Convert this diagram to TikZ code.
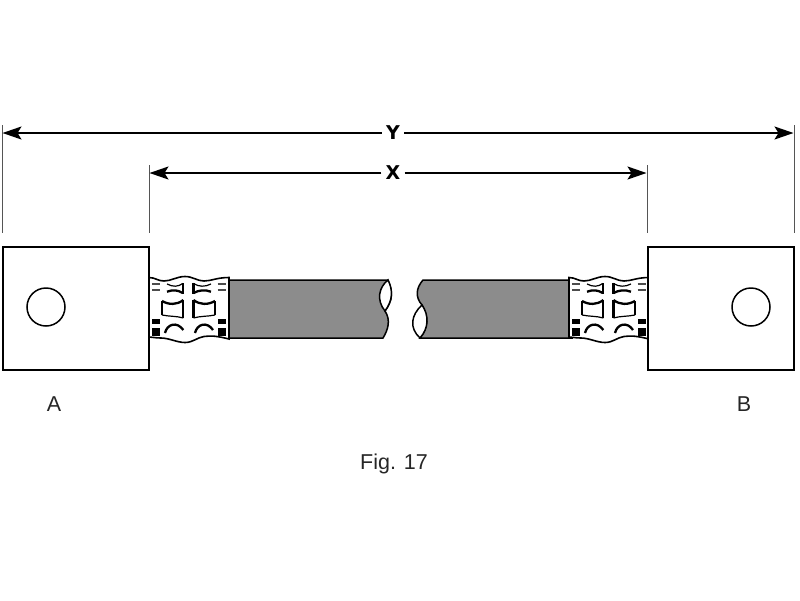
\documentclass[tikz,border=0pt]{standalone}
\usepackage{fontspec}
\setmainfont{Liberation Sans}
\newfontfamily\dimfont{DejaVu Sans}
\usetikzlibrary{arrows.meta}
\definecolor{hosegray}{HTML}{8C8C8C}
\definecolor{extgray}{HTML}{555555}
\tikzset{
  x=1pt,y=-1pt,
  blockbox/.style={draw=black,line width=1.5pt,fill=white,minimum width=146pt,minimum height=123pt,inner sep=0pt},
  holeshape/.style={circle,draw=black,line width=1.5pt,fill=white,minimum size=38pt,inner sep=0pt},
  dimline/.style={draw=black,line width=1.8pt,-{Stealth[length=19pt,width=13pt,inset=4pt]}},
  extline/.style={draw=extgray,line width=1pt},
  dimlabel/.style={font=\fontsize{19}{19}\selectfont\dimfont\bfseries,inner sep=4pt},
  plainlabel/.style={font=\fontsize{21.5}{22}\selectfont,text=black!85,inner sep=0pt},
  thick stroke/.style={line width=2.3pt},
  thin stroke/.style={line width=1.2pt},
  ferrule/.pic={
    \draw[line width=1.6pt,fill=white]
      (0,277.5) .. controls (6,277.5) and (9,281) .. (15,281)
      .. controls (22,281) and (28,276.5) .. (36,276.5)
      .. controls (44,276.5) and (48,281) .. (55,281)
      .. controls (62,281) and (68,277.5) .. (80,277.5)
      -- (80,339)
      .. controls (68,336) and (62,335.5) .. (55,336.5)
      .. controls (48,337.5) and (44,342.5) .. (36,342.5)
      .. controls (28,342.5) and (20,338) .. (12,338)
      .. controls (6,338) and (3,337) .. (0,337) -- cycle;
    % dashes and squares at both ends
    \foreach \xa/\xb in {3/11,68.5/77}{
      \draw[line width=1.7pt,black!70] (\xa,284.3) -- (\xb,284.3);
      \draw[line width=1.7pt,black!70] (\xa,290) -- (\xb,290);
      \fill (\xa,318.5) rectangle (\xb,323.5);
      \fill (\xa,327.5) rectangle (\xb,336);
    }
    % top row
    \draw[thin stroke] (18,284) .. controls (24,287) and (29,287) .. (33.7,283.5);
    \draw[thick stroke] (33.7,283) -- (33.7,293.5);
    \draw[thick stroke] (18,291.7) .. controls (24,289.5) and (29,290) .. (33.7,293);
    \draw[thin stroke] (62,284) .. controls (56,287) and (50,287) .. (44.5,283.5);
    \draw[thick stroke] (44.5,283) -- (44.5,293.5);
    \draw[thick stroke] (62,291.7) .. controls (56,289.5) and (50,290) .. (44.5,293);
    % middle row
    \draw[thick stroke] (13,301) .. controls (20,305) and (28,305) .. (34.3,300);
    \draw[thin stroke] (13,301) -- (13,315);
    \draw[thick stroke] (34.3,300) -- (34.3,318);
    \draw[thin stroke] (13,315) .. controls (20,316.5) and (28,316) .. (34.3,318);
    \draw[thick stroke] (66,301) .. controls (59,305) and (51,305) .. (44.5,300);
    \draw[thin stroke] (66,301) -- (66,315);
    \draw[thick stroke] (44.5,300) -- (44.5,318);
    \draw[thin stroke] (66,315) .. controls (59,316.5) and (51,316) .. (44.5,318);
    % bottom row
    \draw[thick stroke] (16,333) .. controls (18,324) and (28,321) .. (34.3,330);
    \draw[thick stroke] (46,333) .. controls (48,324) and (58,321) .. (64,330);
  }
}
\begin{document}
\begin{tikzpicture}
\useasboundingbox (0,0) rectangle (800,600);
% hose
\draw[line width=1.5pt,fill=hosegray]
  (226,280) -- (388,280)
  .. controls (393,292) and (393,300) .. (385,311)
  .. controls (391,320) and (388,330) .. (383,338)
  -- (226,338) -- cycle;
\draw[line width=1.5pt,fill=white]
  (388,280) .. controls (379,287) and (376,300) .. (385,311)
  .. controls (393,300) and (393,290) .. (388,280) -- cycle;
\draw[line width=1.5pt,fill=hosegray]
  (572,280) -- (423,280)
  .. controls (416,288) and (415,297) .. (422,305)
  .. controls (429,318) and (428,328) .. (420,338)
  -- (572,338) -- cycle;
\draw[line width=1.5pt,fill=white]
  (422,305) .. controls (411,315) and (409,328) .. (420,338)
  .. controls (429,328) and (429,315) .. (422,305) -- cycle;
% ferrules
\pic at (149,0) {ferrule};
\pic at (569,0) {ferrule};
% blocks
\node[blockbox] (blockA) at (76,308.5) {};
\node[blockbox] (blockB) at (721,308.5) {};
\node[holeshape] (holeA) at (46,307) {};
\node[holeshape] (holeB) at (751,307) {};
% extension lines
\coordinate (yl) at (2,125); \coordinate (ylb) at (2,233);
\coordinate (yr) at (794,125); \coordinate (yrb) at (794,233);
\coordinate (xl) at (149,165); \coordinate (xlb) at (149,233);
\coordinate (xr) at (647,165); \coordinate (xrb) at (647,233);
\draw[extline] (yl) -- (ylb);
\draw[extline] (yr) -- (yrb);
\draw[extline] (xl) -- (xlb);
\draw[extline] (xr) -- (xrb);
% dimensions
\node[dimlabel,minimum height=24pt] (labY) at (393,133) {Y};
\node[dimlabel,minimum height=24pt] (labX) at (393,173) {\raisebox{1pt}{X}};
\coordinate (yta) at (2.5,133); \coordinate (ytb) at (793.5,133);
\coordinate (xta) at (149.5,173); \coordinate (xtb) at (646.5,173);
\draw[dimline] (labY) -- (yta);
\draw[dimline] (labY) -- (ytb);
\draw[dimline] (labX) -- (xta);
\draw[dimline] (labX) -- (xtb);
% labels
\node[plainlabel] (labA) at (54,404) {A};
\node[plainlabel] (labB) at (744,404) {B};
\node[plainlabel] (labFig) at (394,463.5) {Fig. 17};
\end{tikzpicture}
\end{document}
